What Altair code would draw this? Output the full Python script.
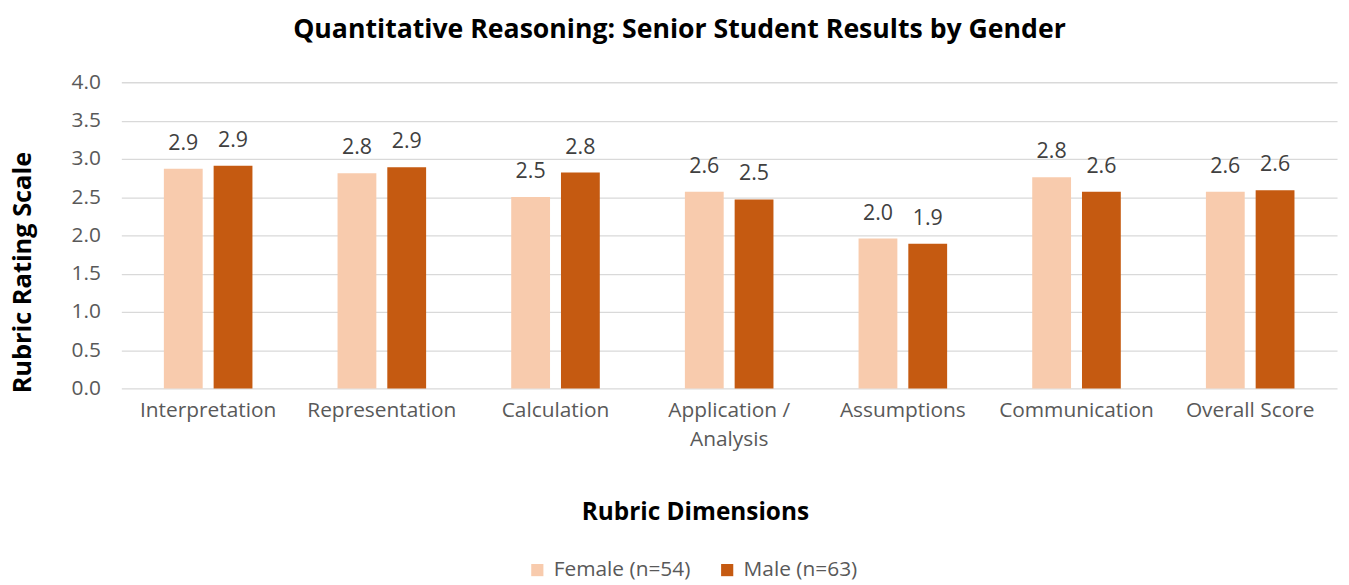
import altair as alt
import pandas as pd

categories = ["Interpretation", "Representation", "Calculation", "Application / Analysis",
              "Assumptions", "Communication", "Overall Score"]
female = [2.87, 2.81, 2.50, 2.57, 1.96, 2.76, 2.57]
male = [2.91, 2.89, 2.82, 2.47, 1.89, 2.57, 2.59]
series = ["Female (n=54)", "Male (n=63)"]
colors = ["#F8CBAD", "#C55A11"]
y_ticks = [0, 0.5, 1, 1.5, 2, 2.5, 3, 3.5, 4]

rows = []
for c, f, m in zip(categories, female, male):
    rows.append({"cat": c, "series": series[0], "value": f})
    rows.append({"cat": c, "series": series[1], "value": m})
df = pd.DataFrame(rows)

FONT = "Open Sans"

x_enc = alt.X("cat:N", sort=categories,
              scale=alt.Scale(paddingInner=0.49, paddingOuter=0.245),
              axis=alt.Axis(title="Rubric Dimensions", labelAngle=0, domain=False, ticks=False,
                            labelPadding=11, labelFontSize=21, labelColor="#595959",
                            labelFont=FONT, labelLineHeight=29,
                            labelExpr="datum.label == 'Application / Analysis' ? ['Application /', 'Analysis'] : datum.label",
                            titleFont=FONT, titleFontSize=24.5, titleFontWeight="bold", titleColor="#000000",
                            titleX=577, titleY=125, titleBaseline="middle"))
xoff = alt.XOffset("series:N", sort=series, scale=alt.Scale(paddingInner=0.22, paddingOuter=0))
y_enc = alt.Y("value:Q", scale=alt.Scale(domain=[0, 4]),
              axis=alt.Axis(title="Rubric Rating Scale", values=y_ticks, labelOverlap=False,
                            format=".1f", domain=False, ticks=False, labelPadding=21,
                            labelFontSize=21, labelColor="#595959", labelFont=FONT,
                            gridColor="#D9D9D9", gridWidth=1.3,
                            titleFont=FONT, titleFontSize=25.5, titleFontWeight="bold", titleColor="#000000",
                            titleX=-99, titleY=191, titleBaseline="middle"))

bars = alt.Chart(df).mark_bar().encode(
    x=x_enc, xOffset=xoff, y=y_enc,
    color=alt.Color("series:N", sort=series,
                    scale=alt.Scale(domain=series, range=colors),
                    legend=alt.Legend(title=None, orient="none", direction="horizontal",
                                      legendX=408, legendY=480, symbolType="square",
                                      symbolSize=150, symbolStrokeWidth=0,
                                      labelFontSize=21, labelFont=FONT, labelColor="#595959",
                                      columnPadding=26, labelOffset=6)),
)

labels = alt.Chart(df).mark_text(dy=-19, baseline="alphabetic", fontSize=21.5, font=FONT,
                                 color="#404040").encode(
    x=x_enc, xOffset=xoff, y=y_enc,
    text=alt.Text("value:Q", format=".1f"),
)

chart = (bars + labels).properties(
    width=1223, height=308,
    autosize=alt.AutoSizeParams(type="none"),
    padding={"left": 114, "top": 73, "right": 4, "bottom": 192},
    title=alt.TitleParams("Quantitative Reasoning: Senior Student Results by Gender",
                          font=FONT, fontSize=26.8, fontWeight="bold", color="#000000",
                          anchor="middle", dx=-50, offset=28),
).configure_view(stroke=None)

chart.save("out.html", embed_options={"renderer": "svg", "actions": False})
